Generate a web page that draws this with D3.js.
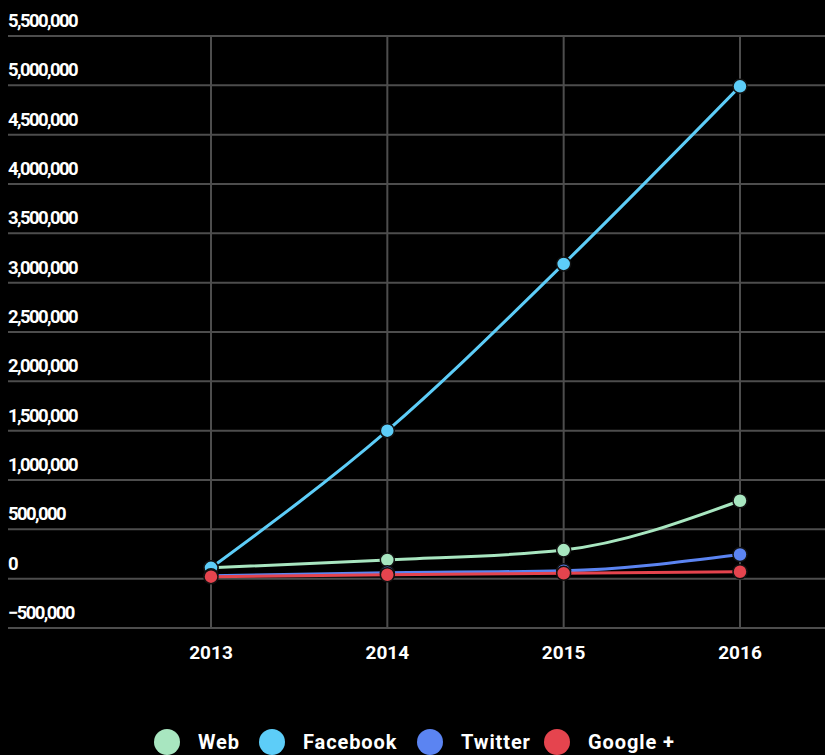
<!DOCTYPE html>
<html>
<head>
<meta charset="utf-8">
<script src="https://cdn.jsdelivr.net/npm/d3@7"></script>
<style>
body { margin: 0; background: #000; }
svg { display: block; font-family: Roboto, sans-serif; }
</style>
</head>
<body>
<svg id="chart" width="825" height="755"></svg>
<script>
// data
var years = [2013, 2014, 2015, 2016];
var web = [110000, 190000, 290000, 790000];
var facebook = [110000, 1500000, 3190000, 4990000];
var twitter = [30000, 60000, 80000, 245000];
var googlePlus = [20000, 40000, 55000, 70000];
var seriesNames = ["Web", "Facebook", "Twitter", "Google +"];
var seriesColors = ["#a8e6c0", "#5dcdf8", "#5b84f2", "#e5444e"];
var yTicks = [-500000, 0, 500000, 1000000, 1500000, 2000000, 2500000, 3000000, 3500000, 4000000, 4500000, 5000000, 5500000];

var series = [web, facebook, twitter, googlePlus].map(function(vals, i){
  return { name: seriesNames[i], color: seriesColors[i], values: vals.map(function(v, j){ return { year: years[j], value: v } }) }
});

var svg = d3.select("#chart");

var x = d3.scaleLinear().domain([2013, 2016]).range([211, 740]);
var y = d3.scaleLinear().domain([-500000, 5500000]).range([628, 36]);

var fmt = d3.format(",");

// horizontal grid + y labels
svg.append("g").selectAll("line")
  .data(yTicks).enter().append("line")
  .attr("x1", 8).attr("x2", 825)
  .attr("y1", function(d){ return y(d) }).attr("y2", function(d){ return y(d) })
  .attr("stroke", "#4d4d4d").attr("stroke-width", 2);

svg.append("g").selectAll("text")
  .data(yTicks).enter().append("text")
  .attr("x", 8).attr("y", function(d){ return y(d) - 9 })
  .attr("fill", "#fff").attr("font-size", 18.5).attr("font-weight", "bold")
  .attr("letter-spacing", -1.6)
  .text(function(d){ return fmt(d) });

// vertical grid
svg.append("g").selectAll("line")
  .data(years).enter().append("line")
  .attr("x1", function(d){ return x(d) }).attr("x2", function(d){ return x(d) })
  .attr("y1", y(5500000)).attr("y2", y(-500000))
  .attr("stroke", "#4d4d4d").attr("stroke-width", 2);

// x labels
svg.append("g").selectAll("text")
  .data(years).enter().append("text")
  .attr("x", function(d){ return x(d) }).attr("y", 659)
  .attr("text-anchor", "middle")
  .attr("fill", "#fff").attr("font-size", 19).attr("font-weight", "bold")
  .text(function(d){ return d });

var line = d3.line()
  .x(function(d){ return x(d.year) })
  .y(function(d){ return y(d.value) })
  .curve(d3.curveMonotoneX);

var g = svg.append("g").selectAll("g")
  .data(series).enter().append("g");

g.append("path")
  .attr("d", function(d){ return line(d.values) })
  .attr("fill", "none")
  .attr("stroke", function(d){ return d.color })
  .attr("stroke-width", 3);

g.selectAll("circle")
  .data(function(d){ return d.values.map(function(v){ return { year: v.year, value: v.value, color: d.color } }) })
  .enter().append("circle")
  .attr("cx", function(d){ return x(d.year) })
  .attr("cy", function(d){ return y(d.value) })
  .attr("r", 7)
  .attr("fill", function(d){ return d.color })
  .attr("stroke", "#111").attr("stroke-width", 1.5);

// legend
var legendX = [167, 272, 430, 557];
var legend = svg.append("g").selectAll("g")
  .data(series).enter().append("g")
  .attr("transform", function(d, i){ return "translate(" + legendX[i] + ",742)" });

legend.append("circle")
  .attr("r", 13)
  .attr("fill", function(d){ return d.color });

legend.append("text")
  .attr("x", 31).attr("y", 7)
  .attr("fill", "#fff").attr("font-size", 20).attr("font-weight", "bold")
  .attr("letter-spacing", 0.9)
  .text(function(d){ return d.name });
</script>
</body>
</html>
